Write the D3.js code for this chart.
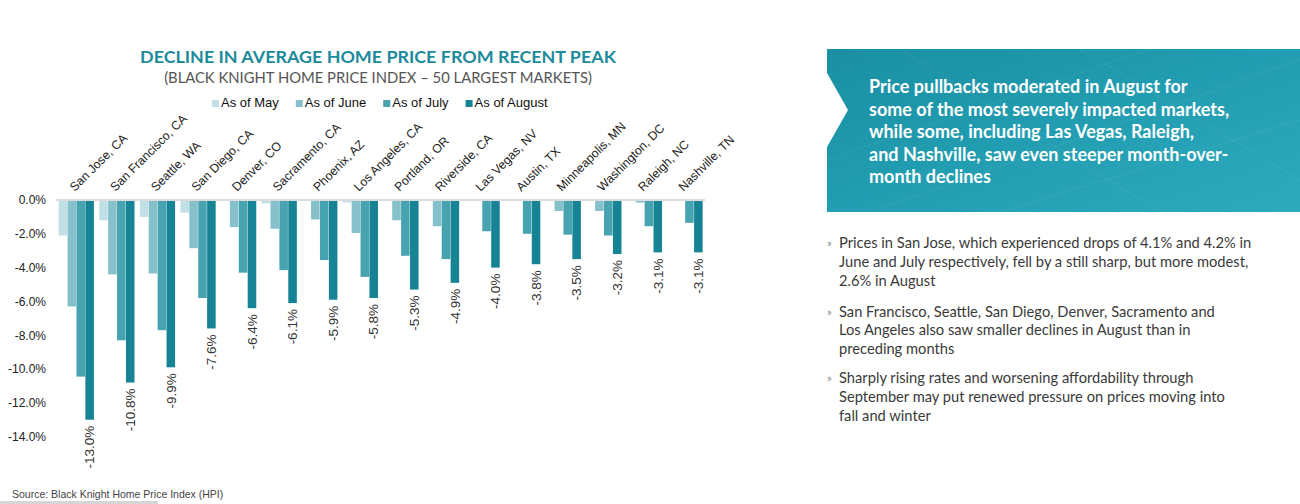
<!DOCTYPE html>
<html>
<head>
<meta charset="utf-8">
<script src="https://cdn.jsdelivr.net/npm/d3@7"></script>
<style>
  html, body { margin: 0; padding: 0; background: #fff; }
  svg { display: block; }
</style>
</head>
<body>
<svg id="chart" width="1300" height="504"></svg>
<script>
// data (decline from peak, %)
const cities = ['San Jose, CA', 'San Francisco, CA', 'Seattle, WA', 'San Diego, CA', 'Denver, CO',
  'Sacramento, CA', 'Phoenix, AZ', 'Los Angeles, CA', 'Portland, OR', 'Riverside, CA',
  'Las Vegas, NV', 'Austin, TX', 'Minneapolis, MN', 'Washington, DC', 'Raleigh, NC', 'Nashville, TN']
const asOfMay = [-2.1, -1.2, -1.0, -0.75, 0, -0.2, 0, -0.15, 0, -0.05, 0, 0, 0, 0, 0, 0]
const asOfJune = [-6.3, -4.4, -4.35, -2.85, -1.6, -1.7, -1.15, -1.95, -1.2, -1.55, -0.05, 0, -0.65, -0.65, -0.15, 0]
const asOfJuly = [-10.45, -8.3, -7.7, -5.8, -4.3, -4.15, -3.55, -4.55, -3.3, -3.5, -1.85, -2.0, -2.05, -2.1, -1.55, -1.35]
const asOfAugust = [-13.0, -10.8, -9.9, -7.6, -6.4, -6.1, -5.9, -5.8, -5.3, -4.9, -4.0, -3.8, -3.5, -3.2, -3.1, -3.1]
const seriesNames = ['As of May', 'As of June', 'As of July', 'As of August']
const yTicks = [0, -2, -4, -6, -8, -10, -12, -14]

const title = 'DECLINE IN AVERAGE HOME PRICE FROM RECENT PEAK'
const subtitle = '(BLACK KNIGHT HOME PRICE INDEX \u2013 50 LARGEST MARKETS)'
const source = 'Source: Black Knight Home Price Index (HPI)'
const calloutLines = ['Price pullbacks moderated in August for', 'some of the most severely impacted markets,',
  'while some, including Las Vegas, Raleigh,', 'and Nashville, saw even steeper month-over-', 'month declines']
const bullets = [
  ['Prices in San Jose, which experienced drops of 4.1% and 4.2% in', 'June and July respectively, fell by a still sharp, but more modest,', '2.6% in August'],
  ['San Francisco, Seattle, San Diego, Denver, Sacramento and', 'Los Angeles also saw smaller declines in August than in', 'preceding months'],
  ['Sharply rising rates and worsening affordability through', 'September may put renewed pressure on prices moving into', 'fall and winter']
]

const COLORS = ['#c0e0e5', '#86c0ca', '#48a3b0', '#168494']
const TEAL = '#1b8a9b'
const LABEL_FONT = '"Liberation Sans", Arial, sans-serif'
const TEXT_FONT = 'Lato, "Open Sans", sans-serif'

const svg = d3.select('#chart')

// table for the grouped bars
const series = [asOfMay, asOfJune, asOfJuly, asOfAugust]
const table = cities.map((c, i) => ({ city: c, values: series.map((s, k) => ({ key: seriesNames[k], value: s[i] })) }))

// scales
const x0 = d3.scaleBand().domain(cities).range([56, 705.3]).paddingInner(0.113).paddingOuter(0.0565)
const x1 = d3.scaleBand().domain(seriesNames).range([0, x0.bandwidth()]).padding(0.04)
const y = d3.scaleLinear().domain([0, -14]).range([200, 436.6])
const color = d3.scaleOrdinal().domain(seriesNames).range(COLORS)
const fmt = d3.format('.1f')
const pct = (d) => fmt(d).replace('\u2212', '-') + '%'     // plain hyphen like the original

// titles
svg.append('text').attr('x', 378).attr('y', 63).attr('text-anchor', 'middle')
  .attr('font-family', TEXT_FONT).attr('font-weight', 700).attr('font-size', 17.9)
  .attr('fill', TEAL).text(title)
svg.append('text').attr('x', 378).attr('y', 83).attr('text-anchor', 'middle')
  .attr('font-family', TEXT_FONT).attr('font-size', 14.8)
  .attr('fill', '#555').text(subtitle)

// legend
let lx = 212
const legend = svg.append('g').attr('font-family', LABEL_FONT).attr('font-size', 13).attr('fill', '#111')
seriesNames.forEach((name) => {
  legend.append('rect').attr('x', lx).attr('y', 100).attr('width', 7).attr('height', 7).attr('fill', color(name))
  const t = legend.append('text').attr('x', lx + 9).attr('y', 107).text(name)
  lx += 9 + t.node().getComputedTextLength() + 17
})

// y axis
const yAxis = svg.append('g').attr('transform', 'translate(48,0)')
  .call(d3.axisLeft(y).tickValues(yTicks).tickFormat(pct).tickSize(0).tickPadding(2))
yAxis.select('.domain').remove()
yAxis.selectAll('text').attr('font-family', LABEL_FONT).attr('font-size', 12).attr('fill', '#222')

// zero line
svg.append('line').attr('x1', 56).attr('x2', 705).attr('y1', y(0)).attr('y2', y(0))
  .attr('stroke', '#dcdcdc').attr('stroke-width', 2)

// bars
const groups = svg.append('g').selectAll('g').data(table).join('g')
  .attr('transform', (d) => 'translate(' + x0(d.city) + ',0)')
groups.selectAll('rect').data((d) => d.values).join('rect')
  .attr('x', (d) => x1(d.key))
  .attr('y', y(0) + 1)
  .attr('width', x1.bandwidth())
  .attr('height', (d) => Math.max(0, y(d.value) - y(0) - 1))
  .attr('fill', (d) => color(d.key))

// category labels
svg.append('g').attr('font-family', LABEL_FONT).attr('font-size', 12.3).attr('fill', '#222')
  .selectAll('text').data(cities).join('text')
  .attr('transform', (d) => 'translate(' + (x0(d) + x0.bandwidth() / 2 - 1.5) + ',192) rotate(-45)')
  .text((d) => d)

// value labels under the August bars
svg.append('g').attr('font-family', LABEL_FONT).attr('font-size', 13.5).attr('fill', '#333')
  .selectAll('text').data(table).join('text')
  .attr('transform', (d) => 'translate(' + (x0(d.city) + x1('As of August') + x1.bandwidth() / 2) + ',' +
    (y(d.values[3].value) + 6) + ') rotate(-90)')
  .attr('text-anchor', 'end').attr('dy', '0.35em')
  .text((d) => pct(d.values[3].value))

// source
svg.append('text').attr('x', 12).attr('y', 498).attr('font-family', LABEL_FONT).attr('font-size', 10.5)
  .attr('fill', '#444').text(source)
svg.append('rect').attr('x', 0).attr('y', 501).attr('width', 158).attr('height', 3).attr('fill', '#d6d6d6')

// callout panel
const defs = svg.append('defs')
const grad = defs.append('linearGradient').attr('id', 'panelGrad').attr('x1', 0).attr('y1', 0).attr('x2', 1).attr('y2', 1)
grad.append('stop').attr('offset', 0).attr('stop-color', '#1a8fa2')
grad.append('stop').attr('offset', 0.5).attr('stop-color', '#229db1')
grad.append('stop').attr('offset', 1).attr('stop-color', '#2eaabd')
svg.append('path')
  .attr('d', 'M827,49H1300V212H827V147L848,110L827,73Z')
  .attr('fill', 'url(#panelGrad)')
// faint streaks across the panel
const streaks = [[870, 212, 1300, 60], [900, 49, 1160, 212], [1000, 212, 1300, 120], [827, 160, 1150, 49], [1080, 49, 1300, 180]]
svg.append('g').attr('stroke', '#ffffff').attr('stroke-opacity', 0.07).attr('stroke-width', 1)
  .selectAll('line').data(streaks).join('line')
  .attr('x1', (d) => d[0]).attr('y1', (d) => d[1]).attr('x2', (d) => d[2]).attr('y2', (d) => d[3])

svg.append('g').attr('font-family', TEXT_FONT).attr('font-weight', 700).attr('font-size', 18).attr('fill', '#fff')
  .selectAll('text').data(calloutLines).join('text')
  .attr('x', 869).attr('y', (d, i) => 93 + i * 22.5)
  .text((d) => d)

// bullets
const bulletTops = [248.3, 316.7, 383.3]
const bg = svg.append('g').attr('font-family', TEXT_FONT).attr('font-size', 14.7)
bullets.forEach((lines, b) => {
  bg.append('text').attr('x', 827).attr('y', bulletTops[b] - 1).attr('font-size', 11).attr('fill', '#8a8a8a').text('\u00bb')
  lines.forEach((line, i) => {
    bg.append('text').attr('x', 839).attr('y', bulletTops[b] + i * 18.6).attr('fill', '#3a3a3a').text(line)
  })
})
</script>
</body>
</html>
